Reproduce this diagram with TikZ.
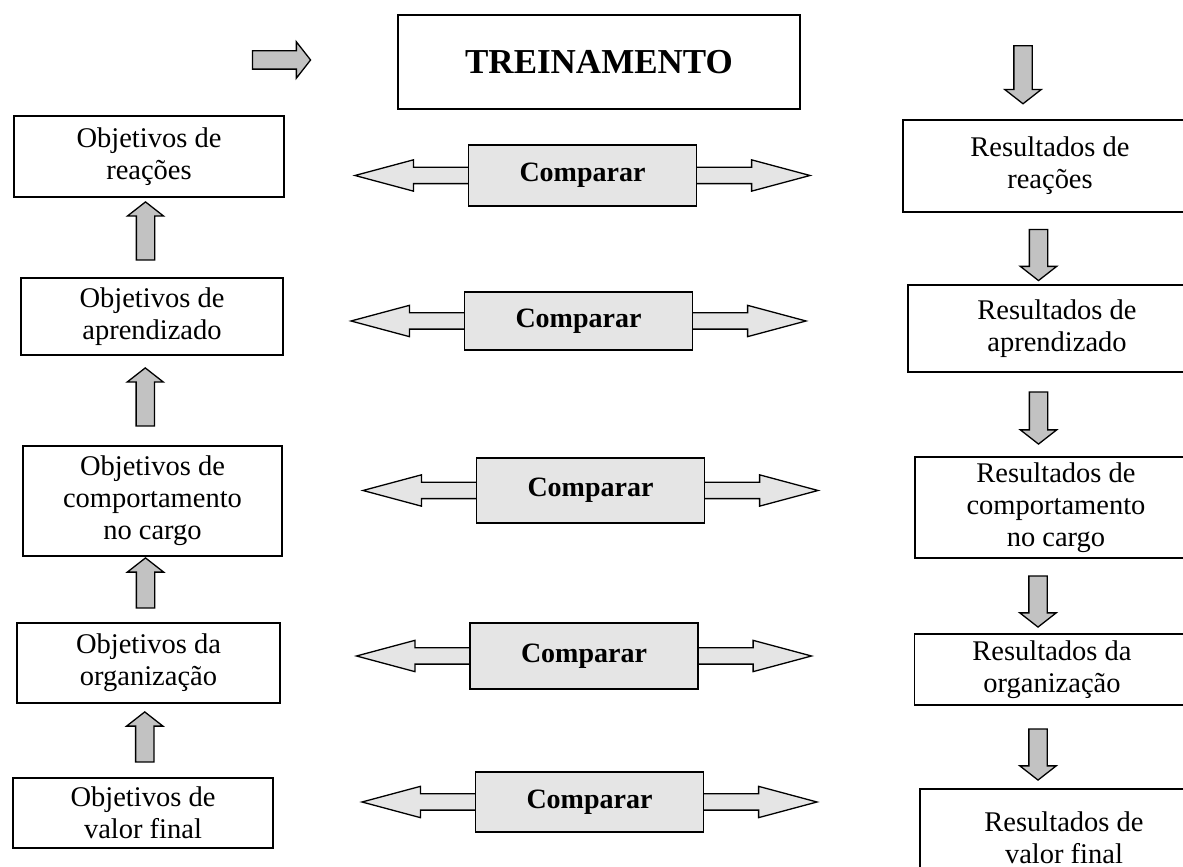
\documentclass[tikz,border=0pt]{standalone}
\usepackage{fontspec}
\setmainfont{Liberation Serif}
\usetikzlibrary{positioning,calc,shapes.arrows}
\tikzstyle{goal}=[rectangle,draw,line width=1.6pt,inner sep=0pt,align=center,font=\fontsize{28.5}{32}\selectfont]
\tikzstyle{compare}=[rectangle,draw,line width=1.6pt,fill=black!10,minimum width=228pt,inner sep=0pt,font=\bfseries\fontsize{28}{32}\selectfont]
\tikzstyle{link}=[double arrow,draw,line width=1.3pt,fill=black!10,minimum height=455pt,minimum width=30pt,inner sep=7.5pt,double arrow head extend=7.5pt,double arrow tip angle=30]
\tikzstyle{flow}=[single arrow,draw,line width=1.3pt,fill=black!24,minimum width=35pt,inner sep=8.5pt,single arrow head extend=9pt,single arrow tip angle=104]

\begin{document}
\begin{tikzpicture}[x=1pt,y=1pt]
        \useasboundingbox (0,0) rectangle (1183,867);
        \node [goal,minimum width=402pt,minimum height=94pt,font=\bfseries\fontsize{35}{40}\selectfont] (train) at (599,805) {TREINAMENTO};
        \node [flow,minimum height=58pt] (start) at (278,807) {};

        \node [goal,minimum width=270pt,minimum height=81pt] (o1) at (149,710.5) {Objetivos de\\reações};
        \node [goal,minimum width=262pt,minimum height=77pt] (o2) at (152,550.5) {Objetivos de\\aprendizado};
        \node [goal,minimum width=259pt,minimum height=110pt] (o3) at (152.5,366) {Objetivos de\\comportamento\\no cargo};
        \node [goal,minimum width=263pt,minimum height=80pt] (o4) at (148.5,204) {Objetivos da\\organização};
        \node [goal,minimum width=260pt,minimum height=70pt] (o5) at (143,54) {Objetivos de\\valor final};

        \node [goal,minimum width=294pt,minimum height=92pt] (r1) at (1050,701) {Resultados de\\reações};
        \node [goal,minimum width=298pt,minimum height=87pt] (r2) at (1057,538.5) {Resultados de\\aprendizado};
        \node [goal,minimum width=282pt,minimum height=101pt] (r3) at (1056,359.5) {Resultados de\\comportamento\\no cargo};
        \node [goal,minimum width=275pt,minimum height=71pt] (r4) at (1052,197.5) {Resultados da\\organização};
        \node [goal,minimum width=288pt,minimum height=97pt] (r5) at (1064,29.5) {Resultados de\\valor final};

        \node [link] (l1) at (582.5,691.5) {};
        \node [compare,minimum height=61pt] (c1) at (l1) {Comparar};
        \node [link] (l2) at (578.5,546) {};
        \node [compare,minimum height=58pt] (c2) at (l2) {Comparar};
        \node [link] (l3) at (590.5,376.5) {};
        \node [compare,minimum height=65pt] (c3) at (l3) {Comparar};
        \node [link] (l4) at (584,211) {};
        \node [compare,minimum height=66pt] (c4) at (l4) {Comparar};
        \node [link] (l5) at (589.5,65) {};
        \node [compare,minimum height=60pt] (c5) at (l5) {Comparar};

        \node [flow,rotate=90,minimum height=58pt] (u1) at ($(o2.north)!0.5!(o1.south)+(-5,3)$) {};
        \node [flow,rotate=90,minimum height=58pt] (u2) at ($(o3.north)!0.5!(o2.south)+(-7,0)$) {};
        \node [flow,rotate=90,minimum height=50pt] (u3) at ($(o4.north)!0.5!(o3.south)+(-5,3)$) {};
        \node [flow,rotate=90,minimum height=50pt] (u4) at ($(o5.north)!0.5!(o4.south)+(-1,0)$) {};

        \node [flow,rotate=-90,minimum height=58pt] (d1) at ($(r1.north)+(-27,48)$) {};
        \node [flow,rotate=-90,minimum height=51pt] (d2) at ($(r1.south)!0.5!(r2.north)+(-15,-3)$) {};
        \node [flow,rotate=-90,minimum height=52pt] (d3) at ($(r2.south)!0.5!(r3.north)+(-18,0)$) {};
        \node [flow,rotate=-90,minimum height=51pt] (d4) at ($(r3.south)!0.5!(r4.north)+(-16,-2)$) {};
        \node [flow,rotate=-90,minimum height=51pt] (d5) at ($(r4.south)!0.5!(r5.north)+(-20,-4)$) {};
      \end{tikzpicture}
\end{document}
